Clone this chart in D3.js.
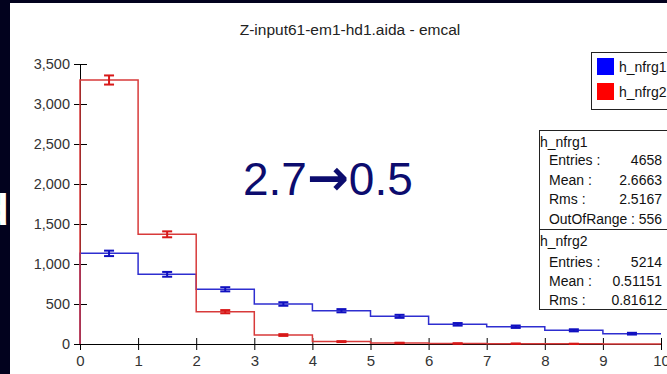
<!DOCTYPE html>
<html>
<head>
<meta charset="utf-8">
<script src="https://cdn.jsdelivr.net/npm/d3@7"></script>
<style>
  html, body { margin: 0; padding: 0; background: #02021e; }
  svg { display: block; font-family: "Liberation Sans", Arial, sans-serif; }
</style>
</head>
<body>
<svg id="chart" width="667" height="374"></svg>
<script>
// histogram contents, one value per unit bin 0..10
const bins = [0, 1, 2, 3, 4, 5, 6, 7, 8, 9];
const nfrg1 = [1133, 871, 684, 500, 416, 346, 246, 216, 171, 129];
const nfrg1Err = [34, 30, 26, 22, 20, 19, 16, 15, 13, 11];
const nfrg2 = [3300, 1371, 404, 112, 30, 12, 6, 4, 2, 0];
const nfrg2Err = [57, 37, 20, 11, 6, 4, 3, 2, 1, 0];

const yTicks = [0, 500, 1000, 1500, 2000, 2500, 3000, 3500];
const xTicks = [0, 1, 2, 3, 4, 5, 6, 7, 8, 9, 10];

const title = "Z-input61-em1-hd1.aida - emcal";
const legendNames = ["h_nfrg1", "h_nfrg2"];
const stats1 = [["Entries :", "4658"], ["Mean :", "2.6663"], ["Rms :", "2.5167"]];
const stats2 = [["Entries :", "5214"], ["Mean :", "0.51151"], ["Rms :", "0.81612"]];

const svg = d3.select("#chart");

// white panel
svg.append("rect").attr("x", 10).attr("y", 3).attr("width", 670).attr("height", 380).attr("fill", "#fff");

// bit of slide text cut off at the left
svg.append("text").attr("x", 9).attr("y", 225).attr("text-anchor", "end")
  .attr("font-size", 44).attr("font-weight", "bold").attr("fill", "#fff").text("d");

const x = d3.scaleLinear().domain([0, 10]).range([80, 661]);
const y = d3.scaleLinear().domain([0, 3500]).range([344, 64]);

svg.append("text").attr("x", 350).attr("y", 35).attr("text-anchor", "middle")
  .attr("font-size", 15.5).attr("fill", "#222").text(title);

/* AXES */
const yAxis = svg.append("g").attr("transform", `translate(${x(0)},0)`)
  .call(d3.axisLeft(y).tickValues(yTicks).tickFormat(d3.format(",")).tickSize(6).tickPadding(4));
yAxis.select(".domain").attr("stroke", "#000");
yAxis.selectAll(".tick line").attr("x1", 7).attr("stroke", "#000");
yAxis.selectAll("text").attr("font-size", 14.5).attr("fill", "#333").attr("font-family", "Liberation Sans, Arial, sans-serif");

const xAxis = svg.append("g").attr("transform", `translate(0,${y(0)})`)
  .call(d3.axisBottom(x).tickValues(xTicks).tickFormat(d3.format("d")).tickSize(6).tickPadding(5));
xAxis.select(".domain").attr("stroke", "#000");
xAxis.selectAll(".tick line").attr("y1", -6).attr("stroke", "#000");
xAxis.selectAll("text").attr("font-size", 15).attr("fill", "#333").attr("font-family", "Liberation Sans, Arial, sans-serif");

/* HISTOGRAMS */
function stepPoints(vals) {
  const pts = [[bins[0], 0]];
  vals.forEach((v, i) => { pts.push([bins[i], v]); pts.push([bins[i] + 1, v]); });
  return pts;
}
const line = d3.line().x(d => x(d[0])).y(d => y(d[1]));

function drawHist(vals, errs, color, barColor) {
  svg.append("path").attr("d", line(stepPoints(vals)))
    .attr("fill", "none").attr("stroke", color).attr("stroke-width", 1.5);
  const g = svg.append("g").attr("stroke", barColor).attr("stroke-width", 2);
  bins.forEach((b, i) => {
    if (vals[i] <= 0) return;
    const cx = x(b + 0.5);
    g.append("line").attr("x1", cx).attr("x2", cx).attr("y1", y(vals[i] - errs[i])).attr("y2", y(vals[i] + errs[i]));
    g.append("line").attr("x1", cx - 5).attr("x2", cx + 5).attr("y1", y(vals[i] - errs[i])).attr("y2", y(vals[i] - errs[i]));
    g.append("line").attr("x1", cx - 5).attr("x2", cx + 5).attr("y1", y(vals[i] + errs[i])).attr("y2", y(vals[i] + errs[i]));
  });
}
drawHist(nfrg1, nfrg1Err, "#2e2ed0", "#1010c0");
drawHist(nfrg2, nfrg2Err, "#d83a3a", "#d81818");

/* LEGEND */
const legColors = ["#0000ff", "#ff0000"];
svg.append("rect").attr("x", 591.5).attr("y", 52.5).attr("width", 90).attr("height", 57)
  .attr("fill", "#fff").attr("stroke", "#222");
legendNames.forEach((n, i) => {
  svg.append("rect").attr("x", 597).attr("y", 58 + i * 25).attr("width", 17).attr("height", 17).attr("fill", legColors[i]);
  svg.append("text").attr("x", 619).attr("y", 72 + i * 25).attr("font-size", 14).attr("fill", "#111").text(n);
});

/* STATS BOX */
svg.append("rect").attr("x", 539.5).attr("y", 130.5).attr("width", 140).attr("height", 179)
  .attr("fill", "#fff").attr("stroke", "#222");
svg.append("line").attr("x1", 539.5).attr("x2", 680).attr("y1", 229.5).attr("y2", 229.5).attr("stroke", "#222");

function statBlock(name, rows, top, rowYs) {
  svg.append("text").attr("x", 540).attr("y", top).attr("font-size", 14).attr("fill", "#111").text(name);
  rows.forEach((r, i) => {
    svg.append("text").attr("x", 549).attr("y", rowYs[i]).attr("font-size", 14).attr("fill", "#111").text(r[0]);
    svg.append("text").attr("x", 662).attr("y", rowYs[i]).attr("text-anchor", "end")
      .attr("font-size", 14).attr("fill", "#111").text(r[1]);
  });
}
statBlock("h_nfrg1", stats1, 147, [165, 185, 204]);
svg.append("text").attr("x", 549).attr("y", 224).attr("font-size", 14).attr("fill", "#111")
  .attr("textLength", 113).attr("lengthAdjust", "spacingAndGlyphs").text("OutOfRange : 556");
statBlock("h_nfrg2", stats2, 246, [267, 286, 305]);

/* ANNOTATION */
const ann = svg.append("text").attr("x", 243).attr("y", 195).attr("font-size", 46).attr("fill", "#0c0c6e");
ann.append("tspan").text("2.7");
ann.append("tspan").attr("font-family", "DejaVu Sans").attr("font-weight", "bold").attr("font-size", 50).text("\u2192");
ann.append("tspan").text("0.5");
</script>
</body>
</html>
